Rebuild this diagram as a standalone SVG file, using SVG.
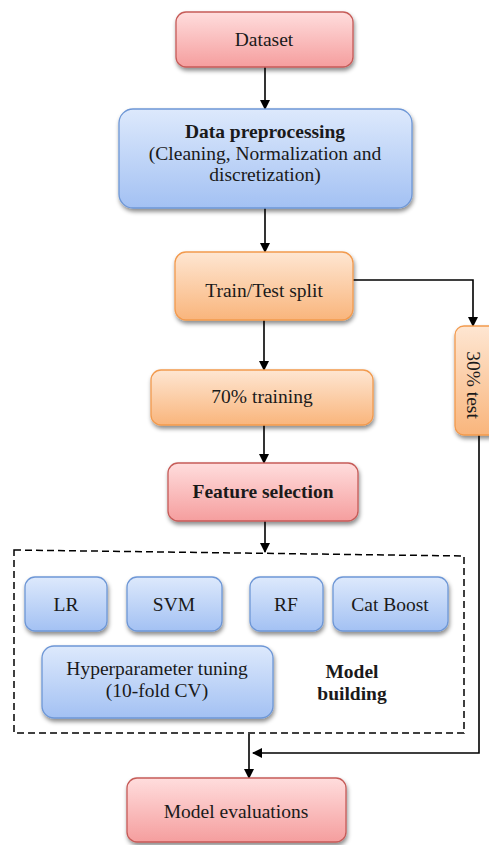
<svg xmlns="http://www.w3.org/2000/svg" width="489" height="845" viewBox="0 0 489 845">
<defs>
<linearGradient id="gRed" x1="0" y1="0" x2="0" y2="1"><stop offset="0" stop-color="#FFDDDD"/><stop offset="1" stop-color="#F59E9E"/></linearGradient>
<linearGradient id="gBlue" x1="0" y1="0" x2="0" y2="1"><stop offset="0" stop-color="#DDE9FC"/><stop offset="1" stop-color="#A3C1F3"/></linearGradient>
<linearGradient id="gOrange" x1="0" y1="0" x2="0" y2="1"><stop offset="0" stop-color="#FEE6D2"/><stop offset="1" stop-color="#F9B57C"/></linearGradient>
<filter id="sh" x="-10%" y="-10%" width="125%" height="140%"><feDropShadow dx="1" dy="3" stdDeviation="2" flood-color="#000" flood-opacity="0.45"/></filter>
<marker id="ah" markerWidth="10" markerHeight="10" refX="9" refY="5" orient="auto" markerUnits="userSpaceOnUse"><path d="M0,0 L10,5 L0,10 z" fill="#000"/></marker>
</defs>
<style>
.red{fill:url(#gRed);stroke:#C65B58;stroke-width:1.3;filter:url(#sh)}
.blue{fill:url(#gBlue);stroke:#6E97D6;stroke-width:1.3;filter:url(#sh)}
.orange{fill:url(#gOrange);stroke:#F29A4E;stroke-width:1.3;filter:url(#sh)}
.t{font-family:'Liberation Serif','DejaVu Serif',serif;font-size:19.5px;fill:#1a1a1a;text-anchor:middle}
.b{font-weight:bold}
.c{fill:none;stroke:#000;stroke-width:1.6}
.a{marker-end:url(#ah)}
.dash{fill:none;stroke:#000;stroke-width:1.5;stroke-dasharray:7,4}
</style>
<rect width="489" height="845" fill="#fff"/>
<g id="connectors">
<line class="c a" x1="265" y1="67" x2="265" y2="109"/>
<line class="c a" x1="265" y1="208" x2="265" y2="252"/>
<line class="c a" x1="264" y1="320" x2="264" y2="370"/>
<path class="c a" d="M353,280 H473 V326"/>
<line class="c a" x1="264" y1="425" x2="264" y2="463"/>
<line class="c a" x1="265" y1="521" x2="265" y2="552"/>
<line class="c a" x1="249" y1="734" x2="249" y2="778"/>
<path class="c a" d="M479,435 V753 H253"/>
</g>
<g font-family="Liberation Serif, DejaVu Serif, serif">
<g id="model-building">
<path class="dash" d="M14,550 L464,556 L464,733 L14,733 Z"/>
<text class="t b" x="352" y="678">Model</text>
<text class="t b" x="352" y="700">building</text>
</g>
<g id="dataset"><rect class="red" x="176" y="12" width="177" height="55" rx="10"/><text class="t" x="264" y="46">Dataset</text></g>
<g id="preprocessing"><rect class="blue" x="119" y="109" width="293" height="99" rx="14"/>
<text class="t b" x="265" y="138">Data preprocessing</text>
<text class="t" x="265" y="160">(Cleaning, Normalization and</text>
<text class="t" x="265" y="181">discretization)</text></g>
<g id="split"><rect class="orange" x="175" y="252" width="178" height="68" rx="11"/><text class="t" x="264" y="297">Train/Test split</text></g>
<g id="test30"><rect class="orange" x="455" y="326" width="44" height="109" rx="9"/><text class="t" transform="translate(473,385) rotate(90)" x="0" y="6">30% test</text></g>
<g id="train70"><rect class="orange" x="151" y="370" width="222" height="55" rx="10"/><text class="t" x="262" y="403">70% training</text></g>
<g id="feature"><rect class="red" x="168" y="463" width="190" height="58" rx="10"/><text class="t b" x="263" y="498">Feature selection</text></g>
<g id="lr"><rect class="blue" x="25" y="577" width="82" height="54" rx="10"/><text class="t" x="66" y="611">LR</text></g>
<g id="svm"><rect class="blue" x="127" y="577" width="95" height="54" rx="10"/><text class="t" x="174" y="611">SVM</text></g>
<g id="rf"><rect class="blue" x="250" y="577" width="73" height="54" rx="10"/><text class="t" x="286" y="611">RF</text></g>
<g id="catboost"><rect class="blue" x="333" y="577" width="115" height="54" rx="10"/><text class="t" x="390" y="611">Cat Boost</text></g>
<g id="hyper"><rect class="blue" x="42" y="646" width="231" height="72" rx="12"/>
<text class="t" x="157" y="675">Hyperparameter tuning</text>
<text class="t" x="157" y="697">(10-fold CV)</text></g>
<g id="evaluation"><rect class="red" x="127" y="778" width="219" height="64" rx="10"/><text class="t" x="236" y="818">Model evaluations</text></g>
</g>
</svg>
